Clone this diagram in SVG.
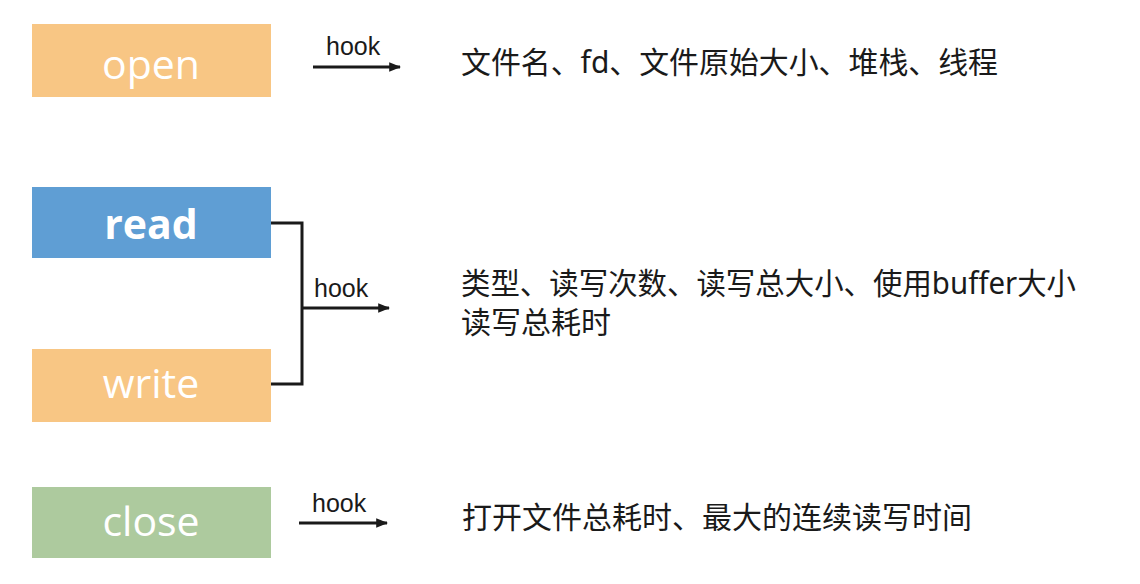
<svg xmlns="http://www.w3.org/2000/svg" width="1140" height="584" viewBox="0 0 1140 584">
<style>
.box-label{font-family:"Open Sans","Noto Sans",sans-serif;font-size:41px;fill:#ffffff;text-anchor:middle}
.hook{font-family:"Liberation Sans",Arial,sans-serif;font-size:25px;fill:#1a1a1a}
.desc{font-family:"Noto Sans","Noto Sans CJK SC",sans-serif;font-size:30px;fill:#1a1a1a}
.conn{stroke:#1a1a1a;stroke-width:3;fill:none}
</style>
<defs>
<marker id="arr" viewBox="0 0 10 10" refX="9" refY="5" markerWidth="4" markerHeight="4" orient="auto" markerUnits="strokeWidth">
<path d="M0,1 L10,5 L0,9 Z" fill="#1a1a1a"/>
</marker>
</defs>
<rect width="1140" height="584" fill="#ffffff"/>
<g id="node-open">
<rect x="32" y="24" width="239" height="73" fill="#F8C684"/>
<text class="box-label" x="151" y="79">open</text>
</g>
<g id="node-read">
<rect x="32" y="187" width="239" height="71" fill="#5F9ED4"/>
<text class="box-label" x="151" y="239" font-weight="bold">read</text>
</g>
<g id="node-write">
<rect x="32" y="349" width="239" height="73" fill="#F8C684"/>
<text class="box-label" x="151" y="398">write</text>
</g>
<g id="node-close">
<rect x="32" y="487" width="239" height="71" fill="#ADCA9E"/>
<text class="box-label" x="151" y="536">close</text>
</g>
<g id="connectors">
<path class="conn" d="M313,67 H400" marker-end="url(#arr)"/>
<path class="conn" d="M271,223 H302 V384 H271"/>
<path class="conn" d="M302,308 H389" marker-end="url(#arr)"/>
<path class="conn" d="M299,523 H387" marker-end="url(#arr)"/>
<text class="hook" x="326" y="55">hook</text>
<text class="hook" x="314" y="297">hook</text>
<text class="hook" x="312" y="512">hook</text>
</g>
<g id="desc-open">
<text class="desc" x="461" y="73" font-size="29" textLength="537" lengthAdjust="spacingAndGlyphs">文件名、fd、文件原始大小、堆栈、线程</text>
</g>
<g id="desc-readwrite">
<text class="desc" x="461" y="294" font-size="28.5" textLength="615" lengthAdjust="spacingAndGlyphs">类型、读写次数、读写总大小、使用buffer大小</text>
<text class="desc" x="461" y="333" font-size="28.5" textLength="150" lengthAdjust="spacingAndGlyphs">读写总耗时</text>
</g>
<g id="desc-close">
<text class="desc" x="462" y="528" textLength="510" lengthAdjust="spacingAndGlyphs">打开文件总耗时、最大的连续读写时间</text>
</g>
</svg>
